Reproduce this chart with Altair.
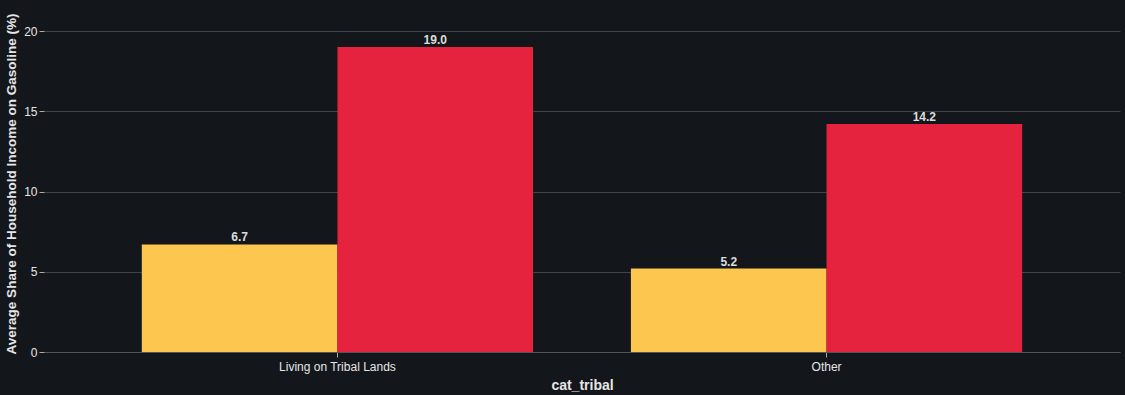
import altair as alt
import pandas as pd

categories = ["Living on Tribal Lands", "Living on Tribal Lands", "Other", "Other"]
series = ["Group A", "Group B", "Group A", "Group B"]
values = [6.7, 19.0, 5.2, 14.2]
series_order = ["Group A", "Group B"]
colors = ["#FDC64F", "#E6233F"]

df = pd.DataFrame({"cat_tribal": categories, "series": series, "value": values})

font = "Liberation Sans"

base = alt.Chart(df).encode(
    x=alt.X("cat_tribal:N", title="cat_tribal",
            scale=alt.Scale(paddingInner=0.2, paddingOuter=0.2),
            axis=alt.Axis(labelAngle=0, labelFontSize=12, labelColor="#e6e6e6",
                          titleFontSize=14, titleColor="#e6e6e6", titleFontWeight="bold",
                          domainColor="#555555", tickColor="#aaaaaa", labelFont=font,
                          titleFont=font, grid=False, labelPadding=4, titlePadding=6)),
    xOffset=alt.XOffset("series:N", sort=series_order),
    y=alt.Y("value:Q", title="Average Share of Household Income on Gasoline (%)",
            scale=alt.Scale(domain=[0, 21], nice=False),
            axis=alt.Axis(values=[0, 5, 10, 15, 20], labelFontSize=12, labelColor="#e6e6e6",
                          titleFontSize=13.5, titleColor="#e6e6e6", titleFontWeight="bold",
                          gridColor="#444444", domain=False, tickColor="#aaaaaa",
                          labelFont=font, titleFont=font, titlePadding=5)),
)

bars = base.mark_bar().encode(
    color=alt.Color("series:N", sort=series_order,
                    scale=alt.Scale(domain=series_order, range=colors), legend=None)
)

labels = base.mark_text(dy=-7, fontSize=12, fontWeight="bold", color="#dddddd", font=font).encode(
    text=alt.Text("value:Q", format=".1f")
)

chart = (bars + labels).properties(
    width=1076, height=337, background="#13171B",
    autosize=alt.AutoSizeParams(type="none"),
    padding={"left": 44, "top": 15, "right": 5, "bottom": 43},
).configure_view(stroke=None)

chart.save("out.html", embed_options={"renderer": "svg", "actions": False})
